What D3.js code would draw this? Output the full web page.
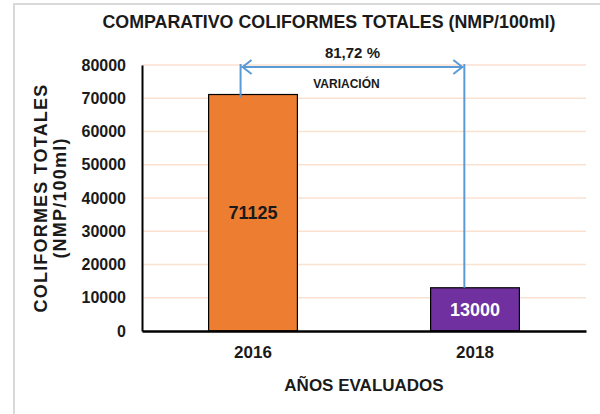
<!DOCTYPE html>
<html>
<head>
<meta charset="utf-8">
<script src="https://cdn.jsdelivr.net/npm/d3@7"></script>
<style>
  body { margin: 0; background: #fff; }
  text { font-family: "Liberation Sans", Arial, sans-serif; font-weight: bold; fill: #1a1a1a; }
</style>
</head>
<body>
<svg id="chart" width="600" height="414"></svg>
<script>
// data
var years = ["2016", "2018"];
var values = [71125, 13000];
var barColors = ["#ed7d31", "#7030a0"];
var labelColors = ["#1a1a1a", "#ffffff"];
var yTicks = [0, 10000, 20000, 30000, 40000, 50000, 60000, 70000, 80000];
var variation = "81,72 %";

var svg = d3.select("#chart");
var margin = {left: 142, right: 14, top: 65, bottom: 83};
var width = 600, height = 414;

// frame (only top and left edges visible)
svg.append("path")
  .attr("d", "M14,414 L14,4 L600,4")
  .attr("fill", "none")
  .attr("stroke", "#d9d9d9")
  .attr("stroke-width", 2);

var x = d3.scaleBand()
  .domain(years)
  .range([margin.left, width - margin.right])
  .paddingInner(0.6)
  .paddingOuter(0.3);

var y = d3.scaleLinear()
  .domain([0, 80000])
  .range([height - margin.bottom, margin.top]);

// gridlines
svg.append("g")
  .selectAll("line")
  .data(yTicks.slice(1))
  .enter()
  .append("line")
  .attr("x1", margin.left)
  .attr("x2", width - margin.right)
  .attr("y1", function(d) { return y(d); })
  .attr("y2", function(d) { return y(d); })
  .attr("stroke", "#fbe1d0")
  .attr("stroke-width", 1.5);

// y axis
var yAxis = svg.append("g")
  .attr("transform", "translate(" + margin.left + ",0)")
  .call(d3.axisLeft(y).tickValues(yTicks).tickSize(0).tickPadding(16).tickFormat(d3.format("d")));
yAxis.select(".domain").attr("stroke", "#000").attr("stroke-width", 2);
yAxis.selectAll("text").style("font-size", "16px").attr("fill", "#1a1a1a");

// bars
svg.append("g")
  .selectAll("rect")
  .data(values)
  .enter()
  .append("rect")
  .attr("x", function(d, i) { return x(years[i]); })
  .attr("y", function(d) { return y(d); })
  .attr("width", x.bandwidth())
  .attr("height", function(d) { return y(0) - y(d); })
  .attr("fill", function(d, i) { return barColors[i]; })
  .attr("stroke", "#000")
  .attr("stroke-width", 1.2);

// x axis
var xAxis = svg.append("g")
  .attr("transform", "translate(0," + y(0) + ")")
  .call(d3.axisBottom(x).tickSize(0).tickPadding(15));
xAxis.select(".domain").attr("stroke", "#000").attr("stroke-width", 2.5);
xAxis.selectAll("text").style("font-size", "17px").attr("fill", "#1a1a1a");

// value labels
svg.append("g")
  .selectAll("text")
  .data(values)
  .enter()
  .append("text")
  .attr("x", function(d, i) { return x(years[i]) + x.bandwidth() / 2; })
  .attr("y", function(d, i) { return i === 0 ? y(d / 2) + 6 : y(d / 2) + 7; })
  .attr("text-anchor", "middle")
  .style("font-size", "18px")
  .style("fill", function(d, i) { return labelColors[i]; })
  .text(function(d) { return d; });

// variation arrow
var xa = x(years[0]) + x.bandwidth() * 0.36;
var xb = x(years[1]) + x.bandwidth() * 0.38;
var ya = y(80000) + 2;
var blue = "#5b9bd5";
var arrow = svg.append("g").attr("stroke", blue).attr("stroke-width", 2).attr("fill", "none");
arrow.append("line").attr("x1", xa).attr("x2", xa).attr("y1", ya - 3).attr("y2", y(values[0]) + 3);
arrow.append("line").attr("x1", xb).attr("x2", xb).attr("y1", ya - 3).attr("y2", y(values[1]));
arrow.append("line").attr("x1", xa + 1).attr("x2", xb - 1).attr("y1", ya).attr("y2", ya);
arrow.append("path").attr("d", "M" + (xa + 11) + "," + (ya - 7) + " L" + (xa + 2) + "," + ya + " L" + (xa + 11) + "," + (ya + 7));
arrow.append("path").attr("d", "M" + (xb - 11) + "," + (ya - 7) + " L" + (xb - 2) + "," + ya + " L" + (xb - 11) + "," + (ya + 7));

svg.append("text")
  .attr("x", (xa + xb) / 2)
  .attr("y", ya - 9)
  .attr("text-anchor", "middle")
  .style("font-size", "15px")
  .text(variation);

svg.append("text")
  .attr("x", (xa + xb) / 2 - 6)
  .attr("y", ya + 21)
  .attr("text-anchor", "middle")
  .style("font-size", "12px")
  .text("VARIACIÓN");

// title
svg.append("text")
  .attr("x", 329)
  .attr("y", 28)
  .attr("text-anchor", "middle")
  .attr("textLength", 453)
  .attr("lengthAdjust", "spacingAndGlyphs")
  .style("font-size", "18px")
  .text("COMPARATIVO  COLIFORMES TOTALES (NMP/100ml)");

// axis titles
svg.append("text")
  .attr("x", (margin.left + width - margin.right) / 2)
  .attr("y", 391)
  .attr("text-anchor", "middle")
  .style("font-size", "17px")
  .text("AÑOS EVALUADOS");

var yTitle = svg.append("text")
  .attr("transform", "translate(47," + (y(40000)) + ") rotate(-90)")
  .attr("text-anchor", "middle")
  .style("font-size", "18px")
  .style("letter-spacing", "1.2px");
yTitle.append("tspan").attr("x", 0).attr("dy", 0).text("COLIFORMES TOTALES");
yTitle.append("tspan").attr("x", 0).attr("dy", 19).text("(NMP/100ml)");
</script>
</body>
</html>
